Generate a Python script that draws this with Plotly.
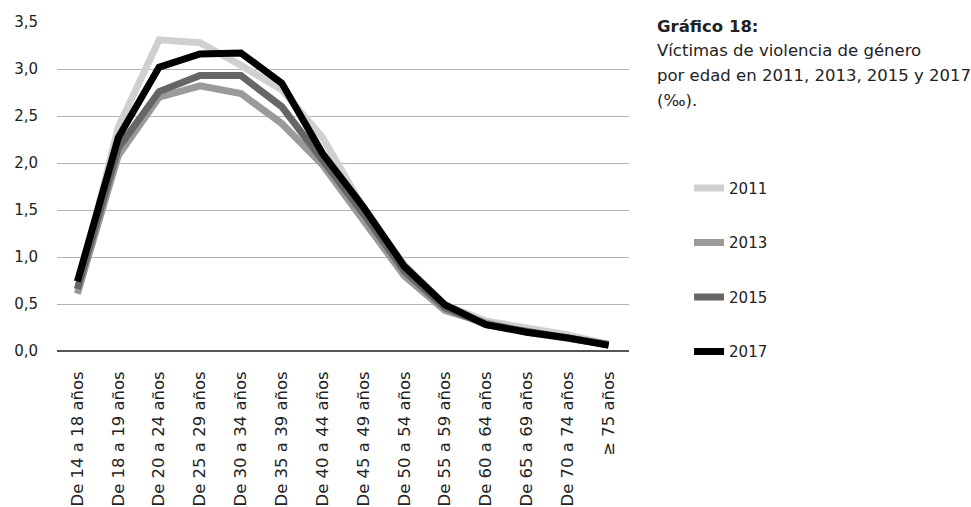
import plotly.graph_objects as go

categories = ["De 14 a 18 años", "De 18 a 19 años", "De 20 a 24 años", "De 25 a 29 años",
              "De 30 a 34 años", "De 35 a 39 años", "De 40 a 44 años", "De 45 a 49 años",
              "De 50 a 54 años", "De 55 a 59 años", "De 60 a 64 años", "De 65 a 69 años",
              "De 70 a 74 años", "≥ 75 años"]

y2011 = [0.65, 2.38, 3.31, 3.28, 3.04, 2.78, 2.27, 1.52, 0.92, 0.49, 0.32, 0.24, 0.17, 0.07]
y2013 = [0.61, 2.08, 2.70, 2.82, 2.74, 2.42, 1.98, 1.40, 0.80, 0.43, 0.30, 0.20, 0.14, 0.07]
y2015 = [0.66, 2.16, 2.76, 2.93, 2.93, 2.60, 2.03, 1.46, 0.85, 0.46, 0.28, 0.21, 0.15, 0.07]
y2017 = [0.74, 2.27, 3.02, 3.16, 3.17, 2.85, 2.10, 1.53, 0.90, 0.49, 0.28, 0.20, 0.14, 0.06]

series = [("2011", y2011, "#d0d0d0"), ("2013", y2013, "#9a9a9a"),
          ("2015", y2015, "#666666"), ("2017", y2017, "#000000")]

yticks = [0, 0.5, 1.0, 1.5, 2.0, 2.5, 3.0, 3.5]

title_lines = ["<b>Gráfico 18:</b>", "Víctimas de violencia de género",
               "por edad en 2011, 2013, 2015 y 2017", "(‰)."]

FONT = "DejaVu Sans"
TXT = "#222222"

fig = go.Figure()
for name, vals, col in series:
    fig.add_trace(go.Scatter(x=categories, y=vals, name=name, mode="lines",
                             line=dict(color=col, width=7), legendgroup=name))

annotations = []
for i, line in enumerate(title_lines):
    annotations.append(dict(xref="paper", yref="paper", x=(655 - 57) / 572,
                            y=(351 - (26 + 24.7 * i)) / 329,
                            xanchor="left", yanchor="middle", align="left",
                            showarrow=False, text=line,
                            font=dict(size=16.5, color=TXT)))

fig.update_layout(
    width=971, height=507,
    margin=dict(l=57, r=342, t=22, b=156),
    paper_bgcolor="white", plot_bgcolor="white",
    font=dict(family=FONT, size=14, color=TXT),
    separators=",.",
    showlegend=True,
    legend=dict(x=1.105, y=0.545, xanchor="left", yanchor="top",
                traceorder="grouped", tracegroupgap=32,
                font=dict(size=15, color=TXT), itemwidth=30,
                bgcolor="rgba(0,0,0,0)"),
    annotations=annotations,
)

fig.update_xaxes(type="category", range=[-0.5, 13.5], tickangle=-90, showgrid=False,
                 showline=False, ticks="", ticklabelstandoff=16, automargin=False,
                 tickfont=dict(size=16.5, color=TXT))
fig.update_yaxes(range=[0, 3.5], tickvals=yticks, tickformat=".1f", showgrid=True,
                 gridcolor="#b3b3b3", gridwidth=1, zeroline=True, zerolinecolor="#555555",
                 zerolinewidth=1.5, showline=False, ticks="", ticklabelstandoff=18,
                 automargin=False, tickfont=dict(size=15, color=TXT))

fig.write_html("out.html", config={"displayModeBar": False},
               post_script="document.body.style.margin='0';")
